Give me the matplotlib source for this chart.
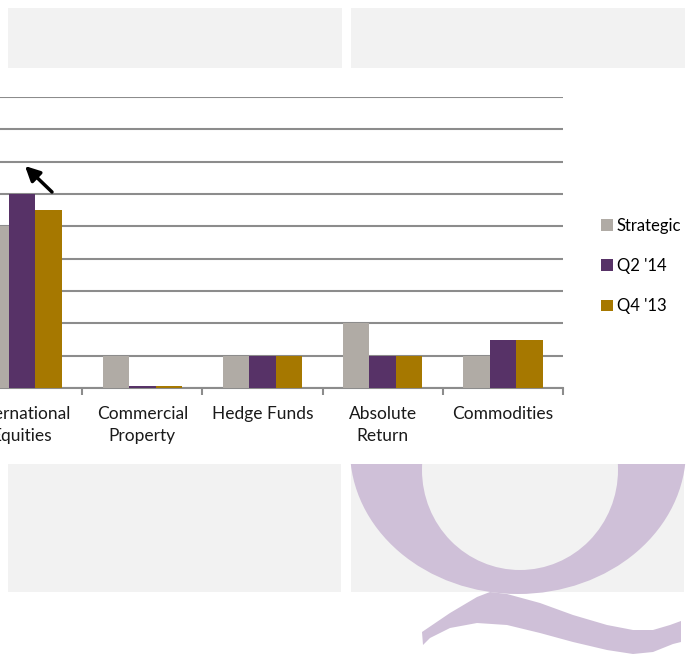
import numpy as np
import matplotlib.pyplot as plt
from matplotlib.patches import Rectangle, Ellipse, Polygon
from matplotlib.transforms import Affine2D

# data (percent allocation)
categories = ['International\nEquities', 'Commercial\nProperty', 'Hedge Funds',
              'Absolute\nReturn', 'Commodities']
series_names = ['Strategic', "Q2 '14", "Q4 '13"]
strategic = [25, 5, 5, 10, 5]
q2_14 = [30, 0.3, 5, 5, 7.5]
q4_13 = [27.5, 0.3, 5, 5, 7.5]
colors = ['#B0ABA5', '#573267', '#A67800']

W, H = 687, 660
fig = plt.figure(figsize=(W / 100, H / 100), dpi=100)
fig.patch.set_facecolor('white')

# pixel coords with top-left origin -> figure
pix = Affine2D().scale(1 / W, -1 / H).translate(0, 1) + fig.transFigure

# slide background panels
for x0, y0, x1, y1 in [(8, 8, 342, 68), (351, 8, 685, 68),
                       (8, 464, 341, 592), (351, 464, 684, 592)]:
    fig.patches.append(Rectangle((x0, y0), x1 - x0, y1 - y0, transform=pix,
                                 facecolor='#F2F2F2', edgecolor='none', zorder=0))

# watermark "Q" (bowl + tail)
qcol = '#CFC0D8'
fig.patches.append(Ellipse((518, 450), 336, 288, transform=pix,
                           facecolor=qcol, edgecolor='none', zorder=1))
fig.patches.append(Ellipse((520, 470), 196, 200, transform=pix,
                           facecolor='#F2F2F2', edgecolor='none', zorder=1.2))
tail = [(422, 632), (450, 613), (477, 597), (490, 592), (507, 594), (540, 603),
        (573, 615), (607, 625), (633, 630), (653, 630), (670, 625), (681, 621),
        (681, 642), (673, 644), (653, 652), (633, 654), (607, 650), (573, 642),
        (540, 633), (507, 625), (477, 623), (450, 628), (430, 638), (423, 645)]
fig.patches.append(Polygon(tail, closed=True, transform=pix,
                           facecolor=qcol, edgecolor='none', zorder=1))

# white band behind the chart
fig.patches.append(Rectangle((0, 70), W, 394, transform=pix,
                             facecolor='white', edgecolor='none', zorder=2))

ax = fig.add_axes([-38 / W, 272 / H, 601 / W, 291 / H], zorder=3)
ax.patch.set_alpha(0)

x = np.arange(len(categories))
bw = 0.22
for i, (vals, name) in enumerate(zip([strategic, q2_14, q4_13], series_names)):
    ax.bar(x + (i - 1) * bw, vals, bw, color=colors[i], label=name, zorder=3)

ax.set_xlim(-0.5, len(categories) - 0.5)
ax.set_ylim(0, 45)
ax.set_yticks(np.arange(0, 46, 5))
ax.yaxis.grid(True, color='#8C8C8C', lw=1.5)
ax.set_axisbelow(True)
ax.tick_params(axis='y', left=False, labelleft=False)
for s in ['left', 'right', 'top']:
    ax.spines[s].set_visible(False)
ax.spines['bottom'].set_color('#8C8C8C')
ax.spines['bottom'].set_linewidth(1.5)

ax.set_xticks(x)
ax.set_xticklabels(categories, family='Lato', fontsize=12.5, color='#1a1a1a',
                   linespacing=1.45)
ax.tick_params(axis='x', which='major', length=0, pad=13)
ax.set_xticks(np.arange(-0.5, len(categories)), minor=True)
ax.tick_params(axis='x', which='minor', length=5, width=1.5, color='#8C8C8C',
               direction='out')

handles, labels = ax.get_legend_handles_labels()
fig.legend(handles, labels, loc='center left', bbox_to_anchor=(601 / W, 1 - 266 / H),
           frameon=False, prop={'family': 'Lato', 'size': 12},
           handlelength=0.7, handleheight=0.7, handletextpad=0.25,
           labelspacing=1.45, borderaxespad=0, borderpad=0)

ax.annotate('', xy=(25 / W, 1 - 166 / H), xytext=(52 / W, 1 - 192 / H),
            xycoords='figure fraction', textcoords='figure fraction',
            arrowprops=dict(arrowstyle='-|>', lw=2.5, color='black',
                            mutation_scale=22, shrinkA=0, shrinkB=0))

fig.savefig('out.png', dpi=100)
